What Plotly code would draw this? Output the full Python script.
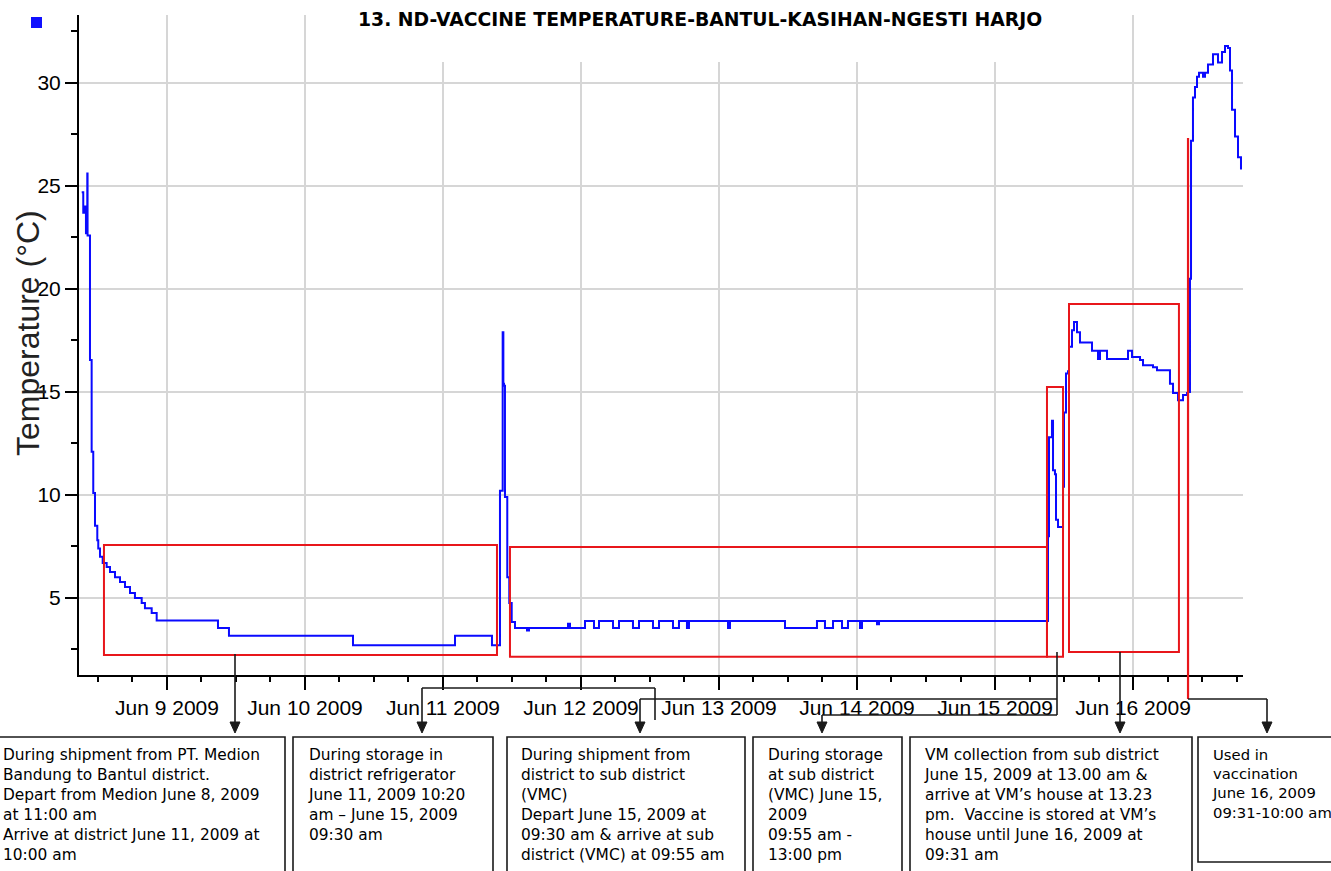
import pandas as pd
import plotly.graph_objects as go

# ---------------- data ----------------
START = pd.Timestamp("2009-06-08 00:00")

# logger readings: hours since 2009-06-08 00:00 and temperature (°C)
hours = [
    9.17, 9.44, 9.74, 9.91, 10.14, 10.19, 10.61, 10.90, 11.18, 11.48,
    11.60, 11.88, 12.05, 12.35, 12.82, 13.51, 14.09, 14.96, 15.83, 16.70,
    17.57, 18.43, 19.60, 20.17, 21.34, 22.21, 32.87, 33.04, 34.78, 35.13,
    56.35, 56.70, 74.09, 74.96, 80.52, 81.04, 81.91, 82.21, 82.38, 82.50,
    82.61, 82.78, 83.08, 83.18, 83.53, 83.95, 84.52, 86.26, 86.61, 86.96,
    93.39, 93.74, 94.09, 96.35, 96.70, 97.91, 98.26, 98.78, 99.13, 101.22,
    101.57, 102.26, 102.61, 104.70, 105.04, 105.74, 106.09, 108.17, 108.52, 109.22,
    109.57, 111.65, 112.00, 112.70, 113.04, 114.09, 114.43, 114.78, 121.22, 121.57,
    121.91, 131.13, 131.48, 136.70, 137.04, 137.91, 138.43, 139.48, 139.83, 141.04,
    141.39, 142.09, 142.43, 144.17, 144.52, 144.87, 147.13, 147.48, 147.83, 177.04,
    177.22, 177.39, 177.74, 177.91, 178.09, 178.43, 178.61, 178.96, 179.48, 179.83,
    180.00, 180.35, 180.70, 180.87, 181.39, 181.74, 182.26, 182.78, 184.17, 184.87,
    185.91, 186.26, 187.13, 187.48, 190.61, 191.13, 191.83, 193.22, 193.74, 195.48,
    196.17, 197.91, 198.43, 198.96, 199.83, 200.70, 201.39, 201.57, 201.74, 201.80,
    201.91, 202.09, 202.43, 202.78, 203.13, 203.48, 204.17, 204.52, 205.04, 205.91,
    206.61, 206.78, 207.48, 208.00, 208.52, 208.87, 209.22, 209.74, 210.26, 210.78,
]
temps = [
    24.7, 23.7, 24.0, 22.7, 25.6, 22.6, 16.55, 12.1, 10.1, 8.5,
    8.5, 7.8, 7.4, 7.0, 6.7, 6.5, 6.26, 6.0, 5.78, 5.53,
    5.24, 5.0, 4.76, 4.5, 4.27, 3.9, 3.54, 3.54, 3.16, 3.16,
    2.7, 2.7, 3.16, 3.16, 2.7, 2.7, 10.2, 10.2, 17.9, 15.4,
    15.3, 9.9, 9.9, 6.0, 4.76, 3.83, 3.54, 3.54, 3.42, 3.54,
    3.54, 3.75, 3.54, 3.54, 3.88, 3.88, 3.54, 3.54, 3.88, 3.88,
    3.54, 3.54, 3.88, 3.88, 3.54, 3.54, 3.88, 3.88, 3.54, 3.54,
    3.88, 3.88, 3.54, 3.54, 3.88, 3.88, 3.54, 3.88, 3.88, 3.54,
    3.88, 3.88, 3.54, 3.54, 3.88, 3.88, 3.54, 3.54, 3.88, 3.88,
    3.54, 3.54, 3.88, 3.88, 3.54, 3.88, 3.88, 3.72, 3.88, 3.88,
    8.0, 12.8, 12.8, 13.6, 11.2, 11.0, 8.8, 8.45, 8.45, 10.4,
    14.0, 15.9, 16.0, 17.2, 18.0, 18.4, 17.9, 17.4, 17.4, 17.0,
    16.6, 17.0, 17.0, 16.6, 16.6, 17.0, 16.7, 16.55, 16.3, 16.2,
    16.05, 16.05, 15.4, 14.95, 14.6, 14.85, 14.95, 15.1, 17.0, 15.0,
    20.5, 27.2, 29.3, 29.8, 30.3, 30.5, 30.3, 30.5, 30.9, 31.4,
    31.4, 31.0, 31.5, 31.8, 31.7, 30.6, 28.7, 27.4, 26.4, 25.8,
]

# highlighted stages (red boxes): start/end hour, low/high temperature
stage_start = [13.04, 83.65, 177.04, 180.87]
stage_end = [81.39, 177.04, 179.83, 199.99]
stage_low = [2.23, 2.14, 2.14, 2.38]
stage_high = [7.57, 7.47, 15.24, 19.27]
vaccination_hour = 201.57
vaccination_top = 27.33

stage_texts = [
    "During shipment from PT. Medion<br>Bandung to Bantul district.<br>Depart from Medion June 8, 2009<br>at 11:00 am<br>Arrive at district June 11, 2009 at<br>10:00 am",
    "During storage in<br>district refrigerator<br>June 11, 2009 10:20<br>am – June 15, 2009<br>09:30 am",
    "During shipment from<br>district to sub district<br>(VMC)<br>Depart June 15, 2009 at<br>09:30 am &amp; arrive at sub<br>district (VMC) at 09:55 am",
    "During storage<br>at sub district<br>(VMC) June 15,<br>2009<br>09:55 am -<br>13:00 pm",
    "VM collection from sub district<br>June 15, 2009 at 13.00 am &amp;<br>arrive at VM’s house at 13.23<br>pm.  Vaccine is stored at VM’s<br>house until June 16, 2009 at<br>09:31 am",
    "Used in<br>vaccination<br>June 16, 2009<br>09:31-10:00 am",
]
title_text = "13. ND-VACCINE TEMPERATURE-BANTUL-KASIHAN-NGESTI HARJO"
y_title = "Temperature (°C)"


def at(h):
    return START + pd.to_timedelta(h, unit="h")


times = [at(h) for h in hours]

# ---------------- layout helpers (pixel -> paper) ----------------
W, H = 1331, 871
PL, PR, PT, PB = 79, 1243, 15, 675
YMIN, YMAX = 1.26, 33.3


def fx(x):
    return (x - PL) / (PR - PL)


def fy(y):
    return (PB - y) / (PB - PT)


RED = "#e8161b"
BLUE = "#0a0aff"
BLACK = "#1a1a1a"

fig = go.Figure()
fig.add_trace(go.Scatter(
    x=times, y=temps, mode="lines",
    line=dict(color=BLUE, width=2, shape="hv"),
    showlegend=False, hoverinfo="skip",
))

shapes = []
# white patch behind the title (hides top of grid lines)
shapes.append(dict(type="rect", xref="paper", yref="paper",
                   x0=fx(350), x1=fx(1050), y0=fy(62), y1=fy(0),
                   fillcolor="white", line=dict(width=0), layer="above"))
# legend square
shapes.append(dict(type="rect", xref="paper", yref="paper",
                   x0=fx(31), x1=fx(42), y0=fy(28), y1=fy(17),
                   fillcolor="#1010ff", line=dict(width=0)))

# red stage boxes
for s, e, lo, hi in zip(stage_start, stage_end, stage_low, stage_high):
    shapes.append(dict(type="rect", xref="x", yref="y",
                       x0=str(at(s)), x1=str(at(e)), y0=lo, y1=hi,
                       line=dict(color=RED, width=2), layer="above"))
# vaccination marker line
shapes.append(dict(type="line", xref="x", yref="y",
                   x0=str(at(vaccination_hour)), x1=str(at(vaccination_hour)),
                   y0=vaccination_top, y1=YMIN,
                   line=dict(color=RED, width=2.2), layer="above"))
shapes.append(dict(type="line", xref="x", yref="paper",
                   x0=str(at(vaccination_hour)), x1=str(at(vaccination_hour)),
                   y0=0, y1=fy(699),
                   line=dict(color=RED, width=2.2), layer="above"))


def seg(x0, y0, x1, y1):
    shapes.append(dict(type="line", xref="paper", yref="paper",
                       x0=fx(x0), x1=fx(x1), y0=fy(y0), y1=fy(y1),
                       line=dict(color=BLACK, width=1.6), layer="above"))


def head(x, tip=733):
    p = "M {a},{b} L {c},{d} L {e},{f} Z".format(
        a=fx(x - 5), b=fy(tip - 11), c=fx(x + 5), d=fy(tip - 11), e=fx(x), f=fy(tip))
    shapes.append(dict(type="path", xref="paper", yref="paper", path=p,
                       fillcolor=BLACK, line=dict(color=BLACK, width=1), layer="above"))


# connectors
seg(235, 654, 235, 725); head(235)
seg(655, 720, 655, 688); seg(655, 688, 422, 688); seg(422, 688, 422, 725); head(422)
seg(1057, 652, 1057, 715); seg(1057, 699, 640, 699); seg(640, 699, 640, 725); head(640)
seg(1057, 715, 822, 715); seg(822, 715, 822, 725); head(822)
seg(1120, 652, 1120, 725); head(1120)
seg(1188, 699, 1267, 699); seg(1267, 699, 1267, 725); head(1267)

# text boxes
boxes = [(-3, 285, 880), (293, 493, 880), (507, 745, 880),
         (753, 902, 880), (910, 1192, 880), (1198, 1345, 862)]
text_x = [1, 306, 519, 766, 922, 1210]
text_size = [15.4, 15.4, 15.4, 15.4, 15.4, 14.8]
for (bx0, bx1, by1) in boxes:
    shapes.append(dict(type="rect", xref="paper", yref="paper",
                       x0=fx(bx0), x1=fx(bx1), y0=fy(by1), y1=fy(737),
                       fillcolor="white", line=dict(color=BLACK, width=1.6), layer="above"))

annotations = []
for tx, txt, ts in zip(text_x, stage_texts, text_size):
    annotations.append(dict(xref="paper", yref="paper", x=fx(tx), y=fy(744),
                            xanchor="left", yanchor="top", align="left",
                            text=txt, showarrow=False,
                            font=dict(family="DejaVu Sans", size=ts, color="black")))
annotations.append(dict(xref="paper", yref="paper", x=fx(700), y=fy(19),
                        xanchor="center", yanchor="middle", text="<b>" + title_text + "</b>",
                        showarrow=False,
                        font=dict(family="DejaVu Sans", size=18.8, color="black")))
annotations.append(dict(xref="paper", yref="paper", x=fx(28), y=fy(333),
                        xanchor="center", yanchor="middle", text=y_title, textangle=-90,
                        showarrow=False,
                        font=dict(family="Liberation Sans", size=32, color="#222")))

fig.update_layout(
    width=W, height=H,
    margin=dict(l=PL, r=W - PR, t=PT, b=H - PB, pad=0),
    paper_bgcolor="white", plot_bgcolor="white",
    shapes=shapes, annotations=annotations,
    xaxis=dict(
        type="date", range=[str(at(8.70)), str(at(211.13))],
        tickformat="%b %-d %Y", dtick=86400000, tick0="2009-06-09",
        ticks="outside", ticklen=13, tickwidth=1.5, tickcolor="black",
        showline=True, linecolor="black", linewidth=2,
        showgrid=True, gridcolor="#d6d6d6", gridwidth=1.5, zeroline=False,
        tickfont=dict(family="Liberation Sans", size=21, color="black"),
        minor=dict(dtick=6 * 3600 * 1000, tick0="2009-06-09", ticks="outside",
                   ticklen=5, tickwidth=1.5, tickcolor="black", showgrid=False),
    ),
    yaxis=dict(
        range=[YMIN, YMAX], dtick=5, tick0=0,
        ticks="outside", ticklen=12, tickwidth=1.5, tickcolor="black",
        showline=True, linecolor="black", linewidth=2,
        showgrid=True, gridcolor="#d6d6d6", gridwidth=1.5, zeroline=False,
        tickfont=dict(family="Liberation Sans", size=21, color="black"),
        minor=dict(dtick=2.5, tick0=0, ticks="outside", ticklen=6, tickwidth=1.5,
                   tickcolor="black", showgrid=False),
    ),
)

fig.write_html("out.html", config={"displayModeBar": False},
               post_script="document.body.style.margin='0px';")
